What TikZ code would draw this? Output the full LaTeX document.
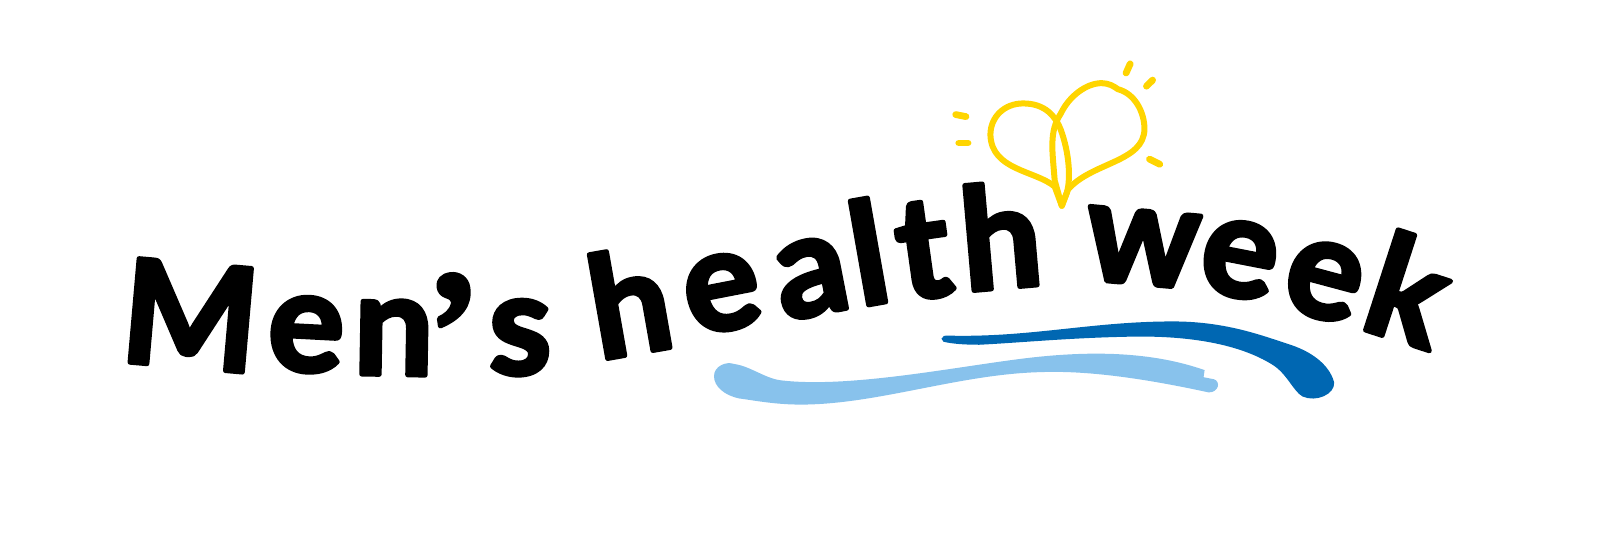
\documentclass[tikz,border=0pt]{standalone}
\usepackage{fontspec}
\setmainfont{Lato}
\newfontfamily\markfont{Liberation Serif}
\definecolor{sunyellow}{HTML}{FFD500}
\definecolor{deepblue}{HTML}{0067B2}
\definecolor{paleblue}{HTML}{88C2EC}
\newcommand{\letternode}[6][71]{\node[letterglyph,rotate=#5] (#2) at (#3,#4) {\fontsize{#1}{#1}\selectfont\special{pdf:code 2 Tr 1 j 1 J 2.4 w}#6\special{pdf:code 0 Tr 0 j 0 J 1 w}};}
\tikzset{
  letterglyph/.style={inner sep=0pt,font=\bfseries,text=black},
  heartline/.style={draw=sunyellow,line width=3pt,line cap=round,line join=round},
  sunray/.style={draw=sunyellow,line width=3.4pt,line cap=round}
}
\begin{document}
\begin{tikzpicture}[x=0.51pt,y=-0.507pt]
\useasboundingbox (0pt,0pt) rectangle (800pt,-280pt);
% swooshes
\begin{scope}[shift={(0,1)}]
\fill[deepblue] (923,333) .. controls (924,330) and (926,330) .. (930,330)
  .. controls (1010,332) and (1070,316) .. (1150,316)
  .. controls (1200,316) and (1235,329) .. (1262,338)
  .. controls (1285,345) and (1303,358) .. (1308,376)
  .. controls (1309,388) and (1290,396) .. (1277,390)
  .. controls (1268,385) and (1262,368) .. (1248,359)
  .. controls (1215,338) and (1165,330) .. (1110,331)
  .. controls (1050,332) and (1000,337) .. (960,339)
  .. controls (945,339) and (933,338) .. (925,336) -- cycle;
\fill[paleblue] (700,370) .. controls (700,360) and (712,355) .. (720,358)
  .. controls (735,360) and (750,372) .. (765,374)
  .. controls (830,382) and (930,362) .. (1000,353)
  .. controls (1070,344) and (1130,346) .. (1181,364)
  -- (1180,371) -- (1190,373)
  .. controls (1197,375) and (1195,386) .. (1185,386)
  .. controls (1130,374) and (1070,364) .. (1020,366)
  .. controls (940,368) and (860,398) .. (785,398)
  .. controls (760,398) and (740,394) .. (725,392)
  .. controls (710,389) and (700,380) .. (700,370) -- cycle;
\end{scope}
% heart
\draw[heartline] (1041,203) -- (1034,184) .. controls (1015,168) and (972,168) .. (971,133) .. controls (971,115) and (985,102) .. (1003,102) .. controls (1025,102) and (1035,115) .. (1040,128) .. controls (1048,150) and (1050,175) .. (1046,190) -- (1041,203);
\draw[heartline] (1041,203) -- (1034,178) .. controls (1032,150) and (1028,130) .. (1040,112) .. controls (1048,95) and (1065,82) .. (1080,82) .. controls (1087,82) and (1092,85) .. (1096,88) .. controls (1112,92) and (1122,110) .. (1122,127) .. controls (1122,160) and (1070,160) .. (1047,187) -- (1041,203);
% rays
\draw[sunray] (937,113) -- (947,115);
\draw[sunray] (940,141) -- (949,141);
\draw[sunray] (1104,72) -- (1108,63);
\draw[sunray] (1124,85) -- (1130,79);
\draw[sunray] (1127,157) -- (1137,162);
% letters
\letternode[72]{m}{187}{311}{-5}{M}
\letternode{e1}{300}{330}{-3}{e}
\letternode{n}{386}{333}{-1}{n}
\letternode[82]{ap}{449}{324}{8}{\markfont ’}
\letternode{s}{510}{333}{0}{s}
\letternode{h1}{617}{297}{10}{h}
\letternode{e2}{708}{289}{11}{e}
\letternode{a}{796}{274}{11}{a}
\letternode{l}{851}{248}{10}{l}
\letternode{t}{905}{247}{8}{t}
\letternode{h2}{981}{232}{5}{h}
\letternode{w}{1120}{244}{-5}{w}
\letternode{e3}{1215}{256}{-11}{e}
\letternode{e4}{1298}{277}{-15}{e}
\letternode{k}{1382}{285}{-18}{k}
\end{tikzpicture}
\end{document}
